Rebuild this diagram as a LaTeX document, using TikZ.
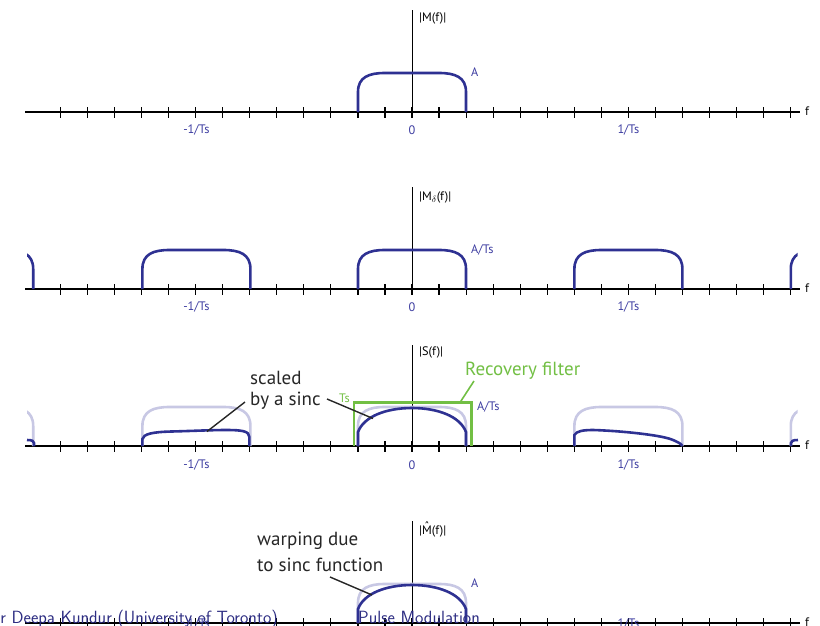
\documentclass[tikz,border=0pt]{standalone}
\usepackage{fontspec}
\setmainfont{PT Sans}
\definecolor{pblue}{RGB}{46,49,146}
\definecolor{lblue}{RGB}{60,60,160}
\definecolor{plight}{RGB}{200,200,228}
\definecolor{fgreen}{RGB}{114,191,68}
\definecolor{footblue}{RGB}{45,45,130}
\newcommand\drawfaxis[1]{%
  \draw[axisline] (25,#1) -- (800,#1);
  \foreach \k in {-13,...,14} \draw[tickmark] ({412+\k*27.05},#1-5) -- ++(0,11);
}
\newcommand\hatM{{\ooalign{M\cr\hidewidth\raisebox{0.25em}{ˆ}\hidewidth\cr}}}
\begin{document}
\begin{tikzpicture}[x=1pt,y=-1pt,
  axisline/.style={line width=1.8pt},
  tickmark/.style={line width=1.2pt},
  vaxis/.style={line width=1pt},
  darkpulse/.style={draw=pblue,line width=2.6pt},
  lightpulse/.style={draw=plight,line width=2.6pt},
  lbl/.style={text=lblue,font=\fontsize{12.3}{14}\selectfont,inner sep=0pt},
  axlbl/.style={text=black,font=\fontsize{12.3}{14}\selectfont,inner sep=0pt,anchor=west},
  note/.style={text=black!85,font=\fontsize{19}{22}\selectfont,inner sep=0pt,anchor=west},
  leader/.style={line width=1.4pt,black!85},
  foot/.style={text=footblue,font=\sffamily\fontsize{17.7}{19}\selectfont,inner sep=0pt},
  flatpulse/.pic={\draw[pic actions] (-54,0) -- (-54,-20) .. controls (-54,-35) and (-43,-39) .. (-27,-39) -- (27,-39) .. controls (43,-39) and (54,-35) .. (54,-20) -- (54,0);},
  domepulse/.pic={\draw[pic actions] (-54,0) -- (-54,-14) .. controls (-48,-30) and (-25,-38) .. (0,-38) .. controls (25,-38) and (48,-30) .. (54,-14) -- (54,0);},
  riseright/.pic={\draw[pic actions] (-54,0) -- (-54,-7) .. controls (-53,-12) and (-44,-14) .. (-25,-14.5) .. controls (-5,-15) and (15,-16) .. (30,-16) .. controls (45,-16) and (53,-15) .. (53,-9) -- (53,0);},
  fallright/.pic={\draw[pic actions] (-54,0) -- (-54,-11) .. controls (-52,-15) and (-45,-16) .. (-35,-16) .. controls (-5,-15) and (30,-11) .. (42,-7) .. controls (50,-4) and (53,-2) .. (54,0);}
]
\useasboundingbox (0,0) rectangle (820,625);
\clip (0,0) rectangle (820,625);

% ---------- plot 1 ----------
\drawfaxis{112}
\draw[vaxis] (412,10) -- (412,117);
\pic[darkpulse] at (412,112) {flatpulse};
\node[axlbl] (l1) at (419,18) {|M(f)|};
\node[lbl,anchor=west] (a1) at (471,72) {A};
\node[axlbl] (f1) at (805,111) {f};
\node[lbl] (m1) at (196.4,130) {-1/Ts};
\node[lbl] (z1) at (412,130) {0};
\node[lbl] (p1) at (628.4,130) {1/Ts};

% ---------- plot 2 ----------
\drawfaxis{289}
\draw[vaxis] (412,187) -- (412,294);
\begin{scope}
  \clip (27,0) rectangle (797.5,625);
  \foreach \c in {-20.8,196.4,412,628.4,844.8} \pic[darkpulse] at (\c,289) {flatpulse};
\end{scope}
\node[axlbl] (l2) at (419,197) {|M$_\delta$(f)|};
\node[lbl,anchor=west] (a2) at (471,250) {A/Ts};
\node[axlbl] (f2) at (805,288) {f};
\node[lbl] (m2) at (196.4,307) {-1/Ts};
\node[lbl] (z2) at (412,307) {0};
\node[lbl] (p2) at (628.4,307) {1/Ts};

% ---------- plot 3 ----------
\drawfaxis{446}
\draw[vaxis] (412,345) -- (412,451);
\begin{scope}
  \clip (27,0) rectangle (797.5,625);
  \foreach \c in {-20.8,196.4,412,628.4,844.8} \pic[lightpulse] at (\c,446) {flatpulse};
\end{scope}
\pic[darkpulse] at (196.4,446) {riseright};
\pic[darkpulse] at (412,446) {domepulse};
\pic[darkpulse] at (628.4,446) {fallright};
\draw[darkpulse] (27,440) .. controls (32,440) and (34,441) .. (34,443) -- (34,446);
\draw[darkpulse] (791,446) -- (791,443) .. controls (791,441) and (793,440) .. (798,440);
\draw[fgreen,line width=2.6pt] (354,446) -- (354,402.5) -- (471.5,402.5) -- (471.5,446);
\node[axlbl] (l3) at (419,352) {|S(f)|};
\node[lbl,anchor=west] (a3) at (477,407) {A/Ts};
\node[lbl,text=fgreen,anchor=east] (ts3) at (350,398) {Ts};
\node[note,text=fgreen] (rec) at (465,371) {Recovery filter};
\coordinate (recA) at (460,402.5);
\coordinate (recB) at (474,381);
\draw[fgreen,line width=1.6pt] (recA) -- (recB);
\node[note] (sc1) at (250,378) {scaled};
\node[note] (sc2) at (250,401) {by a sinc};
\coordinate (lpk) at (207,431.5);
\coordinate (cpk) at (373,418.5);
\coordinate (sc2L) at (245,402);
\coordinate (sc2R) at (327,399);
\draw[leader] (sc2L) -- (lpk);
\draw[leader] (sc2R) -- (cpk);
\node[axlbl] (f3) at (805,445) {f};
\node[lbl] (m3) at (196.4,465) {-1/Ts};
\node[lbl] (z3) at (412,465) {0};
\node[lbl] (p3) at (628.4,465) {1/Ts};

% ---------- plot 4 ----------
\drawfaxis{623}
\draw[vaxis] (412,521) -- (412,628);
\pic[lightpulse] at (412,623) {flatpulse};
\pic[darkpulse] at (412,623) {domepulse};
\node[axlbl] (l4) at (419,531) {|\hatM(f)|};
\node[lbl,anchor=west] (a4) at (471,583) {A};
\node[axlbl] (f4) at (805,622) {f};
\node[note] (w1) at (257,541) {warping due};
\node[note] (w2) at (257,565) {to sinc function};
\coordinate (wA) at (330,577);
\coordinate (wB) at (372,595);
\draw[leader] (wA) -- (wB);
\node[lbl,anchor=north] (m4) at (196.4,618.5) {-1/Ts};
\node[lbl,anchor=north] (p4) at (628.4,618.5) {1/Ts};

% ---------- footer ----------
\node[foot,anchor=base east] (auth) at (278,623) {Dr Deepa Kundur (University of Toronto)};
\node[foot,anchor=base west] (ttl) at (358,623) {Pulse Modulation};
\end{tikzpicture}
\end{document}
